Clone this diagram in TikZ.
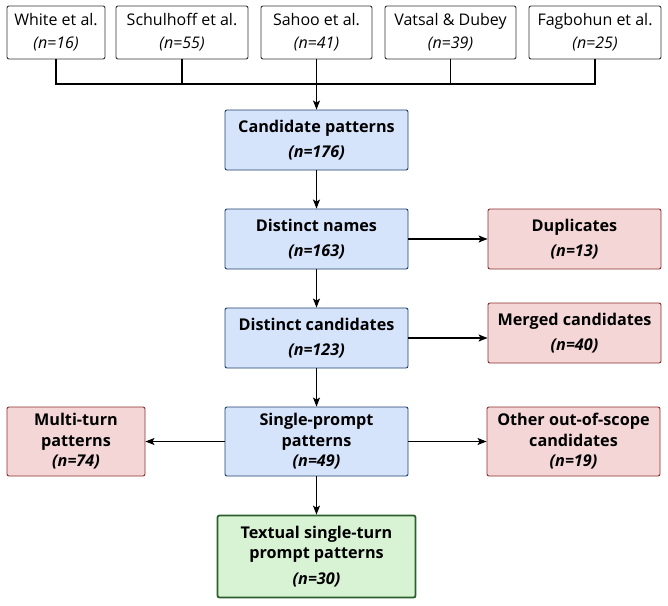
\documentclass[tikz,border=0pt]{standalone}
\usepackage{fontspec}
\setmainfont{Open Sans}
\usetikzlibrary{arrows.meta}
\definecolor{bluefill}{HTML}{D6E4FB}
\definecolor{blueline}{HTML}{1F3F6E}
\definecolor{redfill}{HTML}{F4D6D6}
\definecolor{redline}{HTML}{8B2E2E}
\definecolor{greenfill}{HTML}{D8F3D4}
\definecolor{greenline}{HTML}{2B5E2B}
\definecolor{greyline}{HTML}{333333}
\begin{document}
\begin{tikzpicture}[x=1pt,y=-1pt,
  box/.style={draw, rounded corners=2pt, align=center, inner sep=0pt, line width=0.9pt},
  srcbox/.style={box, draw=greyline, fill=white, minimum height=53pt, font=\fontsize{16}{23}\selectfont},
  bluebox/.style={box, draw=blueline, fill=bluefill, font=\fontsize{16.2}{20.5}\selectfont\bfseries},
  redbox/.style={box, draw=redline, fill=redfill, font=\fontsize{16.2}{20.5}\selectfont\bfseries},
  greenbox/.style={box, draw=greenline, fill=greenfill, line width=1.8pt, font=\fontsize{16.2}{20.5}\selectfont\bfseries},
  conn/.style={line width=1.1pt, black},
  arr/.style={conn, -{Stealth[length=9pt,width=7pt,inset=2pt]}}
]
\useasboundingbox (0,0) rectangle (668,605);

% source boxes
\node[srcbox, minimum width=98pt] (white) at (56,32.5) {White et al.\\\textit{(n=16)}};
\node[srcbox, minimum width=132pt] (schul) at (182,32.5) {Schulhoff et al.\\\textit{(n=55)}};
\node[srcbox, minimum width=111pt] (sahoo) at (316.5,32.5) {Sahoo et al.\\\textit{(n=41)}};
\node[srcbox, minimum width=131pt] (vatsal) at (450.5,32.5) {Vatsal \& Dubey\\\textit{(n=39)}};
\node[srcbox, minimum width=132pt] (fag) at (595,32.5) {Fagbohun et al.\\\textit{(n=25)}};

% main flow
\node[bluebox, minimum width=183pt, minimum height=60pt] (cand) at (316.5,140) {Candidate patterns\\[4.5pt]\itshape (n=176)};
\node[bluebox, minimum width=183pt, minimum height=60pt] (dnames) at (316.5,239) {Distinct names\\[4.5pt]\itshape (n=163)};
\node[bluebox, minimum width=183pt, minimum height=60pt] (dcand) at (316.5,338) {Distinct candidates\\[4.5pt]\itshape (n=123)};
\node[bluebox, minimum width=183pt, minimum height=69pt] (single) at (316.5,441.5) {Single-prompt\\patterns\\\itshape (n=49)};
\node[greenbox, minimum width=198pt, minimum height=82pt] (textual) at (316.5,556.5) {Textual single-turn\\prompt patterns\\[5.5pt]\itshape (n=30)};

% excluded
\node[redbox, minimum width=173pt, minimum height=60pt] (dup) at (574.5,239) {Duplicates\\[4.5pt]\itshape (n=13)};
\node[redbox, minimum width=173pt, minimum height=60pt] (merged) at (574.5,333) {Merged candidates\\[4.5pt]\itshape (n=40)};
\node[redbox, minimum width=138pt, minimum height=69pt] (multi) at (76,441.5) {Multi-turn\\patterns\\\itshape (n=74)};
\node[redbox, minimum width=173pt, minimum height=69pt] (other) at (573.5,441.5) {Other out-of-scope\\candidates\\\itshape (n=19)};

% bus
\coordinate (bus) at (316.5,84);
\draw[conn] (white.south) -- (white.south |- bus) -- (fag.south |- bus) -- (fag.south);
\draw[conn] (schul.south) -- (schul.south |- bus);
\draw[conn] (sahoo.south) -- (bus);
\draw[conn] (vatsal.south) -- (vatsal.south |- bus);
\draw[arr] (bus) -- (cand.north);

\draw[arr] (cand) -- (dnames);
\draw[arr] (dnames) -- (dcand);
\draw[arr] (dcand) -- (single);
\draw[arr] (single) -- (textual);
\draw[arr] (dnames) -- (dup);
\draw[arr] (dcand.east) -- (dcand.east -| merged.west);
\draw[arr] (single) -- (multi);
\draw[arr] (single) -- (other);
\end{tikzpicture}
\end{document}
